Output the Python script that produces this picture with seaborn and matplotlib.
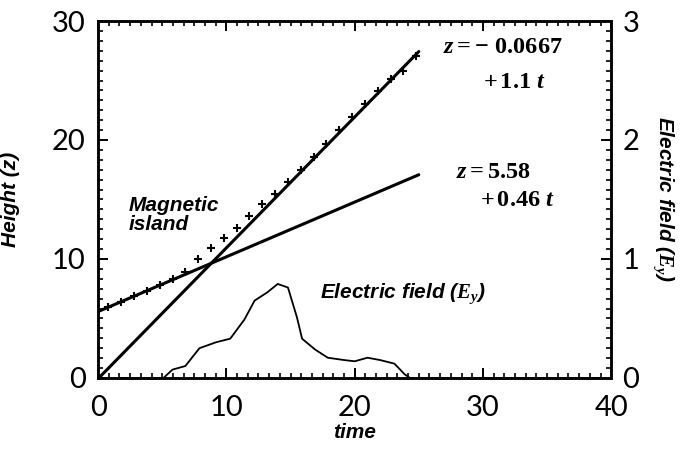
import matplotlib
matplotlib.use("Agg")
import matplotlib.pyplot as plt
import matplotlib.ticker as mticker
import numpy as np
import pandas as pd
import seaborn as sns

# height of the magnetic island (+ markers)
island_t = [0.8, 1.8, 2.8, 3.8, 4.8, 5.8, 6.8, 7.8, 8.8, 9.8, 10.8, 11.8, 12.8,
            13.8, 14.8, 15.8, 16.8, 17.8, 18.8, 19.8, 20.8, 21.8, 22.8, 23.8, 24.8]
island_z = [6.0, 6.4, 6.9, 7.3, 7.8, 8.3, 8.9, 10.0, 10.9, 11.8, 12.6, 13.6, 14.6,
            15.5, 16.5, 17.5, 18.6, 19.7, 20.8, 21.9, 23.0, 24.1, 25.1, 25.8, 27.1]

# electric field Ey (right axis)
field_t = [0, 5.1, 5.8, 6.8, 7.9, 9.2, 10.3, 11.4, 12.2, 13.2, 14.0, 14.8, 15.5,
           15.9, 16.9, 17.9, 19.2, 20.0, 21.0, 22.0, 23.1, 23.9, 24.3, 40]
field_e = [0, 0, 0.07, 0.10, 0.25, 0.30, 0.33, 0.49, 0.65, 0.72, 0.79, 0.76, 0.51,
           0.33, 0.24, 0.17, 0.15, 0.14, 0.17, 0.15, 0.12, 0.03, 0, 0]

# linear fits z = a + b t
fit_a = [-0.0667, 5.58]
fit_b = [1.1, 0.46]
fit_t_end = [25, 25]

sns.set_theme(style="ticks")
plt.rcParams["text.color"] = "black"
plt.rcParams["mathtext.fontset"] = "custom"
plt.rcParams["mathtext.rm"] = "Liberation Serif:bold"
plt.rcParams["mathtext.it"] = "Liberation Serif:bold:italic"
plt.rcParams["mathtext.bf"] = "Liberation Serif:bold"

fit_rows = []
for i in range(len(fit_a)):
    for t in [0, fit_t_end[i]]:
        fit_rows.append({"fit": i, "t": t, "z": fit_a[i] + fit_b[i] * t})
fits = pd.DataFrame(fit_rows)
island = pd.DataFrame({"t": island_t, "z": island_z})
field = pd.DataFrame({"t": field_t, "e": field_e})

fig = plt.figure(figsize=(6.86, 4.57), dpi=100)
ax = fig.add_axes([0.143, 0.173, 0.748, 0.781])
ax2 = ax.twinx()

sns.lineplot(data=fits, x="t", y="z", units="fit", estimator=None, color="black",
             linewidth=2.2, ax=ax)
sns.scatterplot(data=island, x="t", y="z", marker="+", s=34, color="black",
                linewidth=1.5, ax=ax)
sns.lineplot(data=field, x="t", y="e", color="black", linewidth=1.3, ax=ax2)

ax.set_xlim(0, 40)
ax.set_ylim(0, 30)
ax2.set_ylim(0, 3)

ax.xaxis.set_major_locator(mticker.MultipleLocator(10))
ax.yaxis.set_major_locator(mticker.MultipleLocator(10))
ax2.yaxis.set_major_locator(mticker.MultipleLocator(1))
for a in [ax, ax2]:
    a.xaxis.set_minor_locator(mticker.AutoMinorLocator(12))
    a.yaxis.set_minor_locator(mticker.AutoMinorLocator(12))
ax.tick_params(which="both", direction="in", bottom=True, left=True, top=True,
               right=False, color="black", labelcolor="black")
ax.tick_params(which="major", length=7, width=1.4)
ax.tick_params(which="minor", length=3.5, width=1.2)
ax.tick_params(axis="x", pad=12)
ax.tick_params(axis="y", pad=9)
ax2.tick_params(which="both", direction="in", color="black", labelcolor="black",
                left=False, right=True)
ax2.tick_params(which="major", length=7, width=1.4, pad=8)
ax2.tick_params(which="minor", length=3.5, width=1.2)
for lab in ax.get_xticklabels() + ax.get_yticklabels() + ax2.get_yticklabels():
    lab.set_fontfamily("Lato")
    lab.set_fontweight("normal")
    lab.set_fontsize(21)

for a in [ax, ax2]:
    for sp in a.spines.values():
        sp.set_visible(True)
        sp.set_color("black")
        sp.set_linewidth(1.8)

label_font = {"family": "Liberation Sans", "weight": "bold", "style": "italic",
              "size": 15, "color": "black"}
ax.set_xlabel("time", fontdict=label_font, labelpad=2)
ax.set_ylabel("Height (z)", fontdict=label_font)
ax.yaxis.set_label_coords(-0.152, 0.5)
ax2.set_ylabel("Electric field ($E_y$)", fontdict=label_font, rotation=270)
ax2.yaxis.set_label_coords(1.125, 0.5)

ax.text(2.4, 13.7, "Magnetic\nisland", ha="left", va="center", linespacing=0.95,
        **label_font)
ax.text(17.3, 7.1, "Electric field ($E_y$)", ha="left", va="center", **label_font)

eq_size = 17.5
ax.text(26.9, 27.9, r"$z = -\ 0.0667$", ha="left", va="center", size=eq_size,
        color="black")
ax.text(30.0, 25.0, r"$+\,1.1\ t$", ha="left", va="center", size=eq_size,
        color="black")
ax.text(27.9, 17.4, r"$z = 5.58$", ha="left", va="center", size=eq_size,
        color="black")
ax.text(29.8, 15.0, r"$+\,0.46\ t$", ha="left", va="center", size=eq_size,
        color="black")

fig.savefig("out.png", dpi=100, facecolor="white")
